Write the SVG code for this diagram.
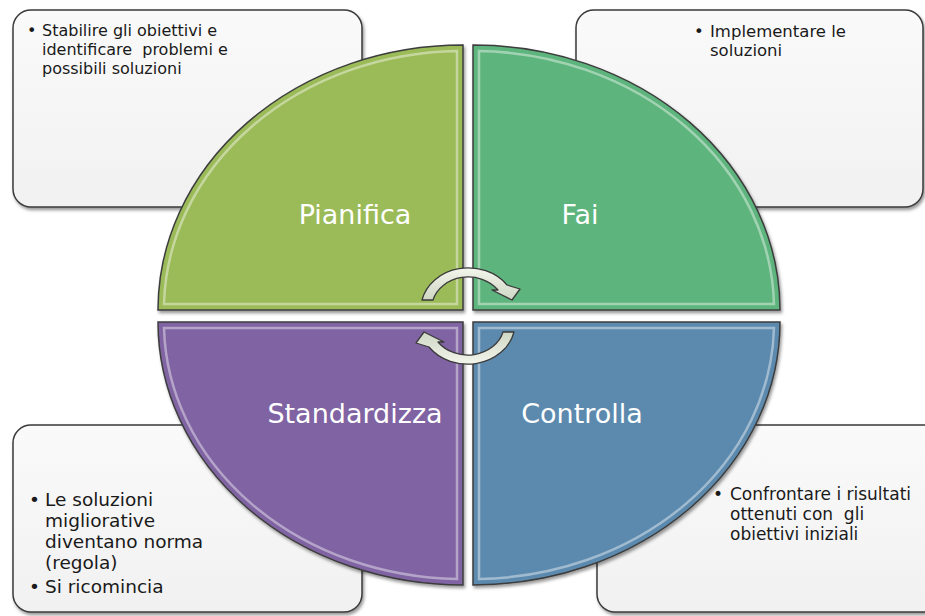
<svg xmlns="http://www.w3.org/2000/svg" width="925" height="616" viewBox="0 0 925 616">
<defs>
<style>
.box{fill:url(#boxg);stroke:#3a3a3a;stroke-width:1.5;filter:url(#sh)}
.quad{stroke:#3c3c3c;stroke-width:1.5;filter:url(#sh)}
.hl{fill:none;stroke:#ffffff;stroke-opacity:0.42;stroke-width:2.5}
.lbl{font-family:"DejaVu Sans","Liberation Sans",sans-serif;font-size:27px;fill:#ffffff;text-anchor:middle}
.txt{font-family:"DejaVu Sans","Liberation Sans",sans-serif;fill:#1a1a1a}
.arrow{fill:url(#arg);stroke:#3a3a3a;stroke-width:1.3;stroke-linejoin:round}
</style>
<linearGradient id="boxg" x1="0" y1="0" x2="0" y2="1">
<stop offset="0" stop-color="#fafafa"/>
<stop offset="1" stop-color="#f1f1f1"/>
</linearGradient>
<linearGradient id="arg" x1="0" y1="0" x2="0" y2="1">
<stop offset="0" stop-color="#f3f6ec"/>
<stop offset="1" stop-color="#cfd7c4"/>
</linearGradient>
<filter id="sh" x="-5%" y="-5%" width="112%" height="115%">
<feDropShadow dx="1.5" dy="2.5" stdDeviation="1.5" flood-color="#000" flood-opacity="0.4"/>
</filter>
</defs>
<rect width="925" height="616" fill="#ffffff"/>

<g id="note-pianifica">
<rect class="box" x="13" y="10" width="349" height="197" rx="18"/>
<text class="txt" font-size="16"><tspan x="27" y="36">•</tspan></text>
<text class="txt" font-size="16"><tspan x="42" y="36">Stabilire gli obiettivi e</tspan><tspan x="42" y="55">identificare&#160; problemi e</tspan><tspan x="42" y="74">possibili soluzioni</tspan></text>
</g>
<g id="note-fai">
<rect class="box" x="576" y="10" width="347" height="197" rx="18"/>
<text class="txt" font-size="16.5"><tspan x="694" y="37">•</tspan></text>
<text class="txt" font-size="16.5"><tspan x="710" y="37">Implementare le</tspan><tspan x="710" y="56">soluzioni</tspan></text>
</g>
<g id="note-standardizza">
<rect class="box" x="13" y="425" width="349" height="187" rx="18"/>
<text class="txt" font-size="18.5"><tspan x="29" y="506">•</tspan><tspan x="29" y="593">•</tspan></text>
<text class="txt" font-size="18.5"><tspan x="45" y="506">Le soluzioni</tspan><tspan x="45" y="527">migliorative</tspan><tspan x="45" y="548">diventano norma</tspan><tspan x="45" y="569">(regola)</tspan><tspan x="45" y="593">Si ricomincia</tspan></text>
</g>
<g id="note-controlla">
<rect class="box" x="597" y="425" width="345" height="187" rx="18"/>
<text class="txt" font-size="17"><tspan x="713" y="500">•</tspan></text>
<text class="txt" font-size="17"><tspan x="730" y="500">Confrontare i risultati</tspan><tspan x="730" y="520">ottenuti con&#160; gli</tspan><tspan x="730" y="540">obiettivi iniziali</tspan></text>
</g>

<g id="pianifica">
<path class="quad" fill="#9bbb59" d="M463,310 L158,310 A305 265 0 0 1 463,45 Z"/>
<path class="hl" d="M457,304 L164,304 A299 259 0 0 1 457,51 Z"/>
<text class="lbl" x="355" y="224">Pianifica</text>
</g>
<g id="fai">
<path class="quad" fill="#5db47d" d="M473,310 L473,45 A307 265 0 0 1 780,310 Z"/>
<path class="hl" d="M479,304 L479,51 A301 259 0 0 1 774,304 Z"/>
<text class="lbl" x="580" y="224">Fai</text>
</g>
<g id="standardizza">
<path class="quad" fill="#8064a2" d="M463,322 L463,585 A305 263 0 0 1 158,322 Z"/>
<path class="hl" d="M457,328 L457,579 A299 257 0 0 1 164,328 Z"/>
<text class="lbl" x="355" y="423">Standardizza</text>
</g>
<g id="controlla">
<path class="quad" fill="#5c8aae" d="M473,322 L780,322 A307 263 0 0 1 473,585 Z"/>
<path class="hl" d="M479,328 L774,328 A301 257 0 0 1 479,579 Z"/>
<text class="lbl" x="582" y="423">Controlla</text>
</g>

<g id="connectors">
<path class="arrow" d="M422,300 A47.5 41 0 0 1 507,285 L520,289 L512,300 L492,290 L498,290 A36.5 31 0 0 0 433,300 Z"/>
<path class="arrow" transform="rotate(180 468 316)" d="M422,300 A47.5 41 0 0 1 507,285 L520,289 L512,300 L492,290 L498,290 A36.5 31 0 0 0 433,300 Z"/>
</g>
</svg>
